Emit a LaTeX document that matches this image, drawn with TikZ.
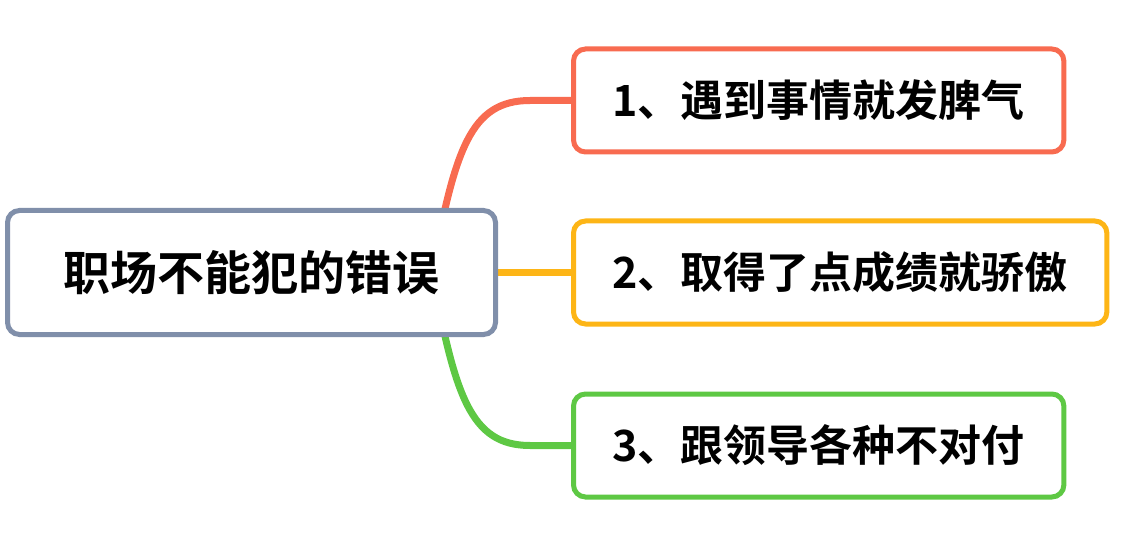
\documentclass[tikz,border=0pt]{standalone}
\usepackage{fontspec}
\setmainfont{Noto Sans CJK SC}[BoldFont={Noto Sans CJK SC Bold}]
\usepackage{tikz}
\usetikzlibrary{positioning, backgrounds}
\definecolor{rootline}{RGB}{128,143,170}
\definecolor{redline}{RGB}{248,107,80}
\definecolor{orangeline}{RGB}{253,181,22}
\definecolor{greenline}{RGB}{94,200,68}
\tikzset{
x=0.5pt, y=-0.5pt, % one unit is one pixel of the picture
topic/.style={draw=rootline, line width=2.5pt, rounded corners=6pt, fill=white, font=\bfseries\fontsize{23.5}{28}\selectfont, minimum width=244pt, minimum height=62pt}, % the central topic
branch/.style={draw=#1, line width=2.5pt, rounded corners=6pt, fill=white, font=\bfseries\fontsize{21.5}{26}\selectfont, inner xsep=19.5pt, minimum height=51.5pt}, % the three subtopics
link/.style={draw=#1, line width=3.5pt, line cap=round}, % connectors from the topic
}

\begin{document}
\begin{tikzpicture}
    \useasboundingbox (0,0) rectangle (1142,556);
    \node[topic] (root) at (251.5,272.5) {职场不能犯的错误};
    \node[branch=orangeline, right=36.5pt of root] (c2) {2、取得了点成绩就骄傲};
    \node[branch=redline, above=32pt of c2.north west, anchor=south west] (c1) {1、遇到事情就发脾气};
    \node[branch=greenline, below=32.5pt of c2.south west, anchor=north west] (c3) {3、跟领导各种不对付};

    \begin{scope}[on background layer]
        \draw[link=redline] ([xshift=-33pt]root.east) .. controls +(11.5pt,61pt) and +(-30pt,0pt) .. ([xshift=-20.5pt]c1.west) -- (c1.west);
        \draw[link=orangeline] (root.east) -- (c2.west);
        \draw[link=greenline] ([xshift=-33pt]root.east) .. controls +(11.5pt,-61pt) and +(-30pt,0pt) .. ([xshift=-20.5pt]c3.west) -- (c3.west);
    \end{scope}
\end{tikzpicture}
\end{document}
